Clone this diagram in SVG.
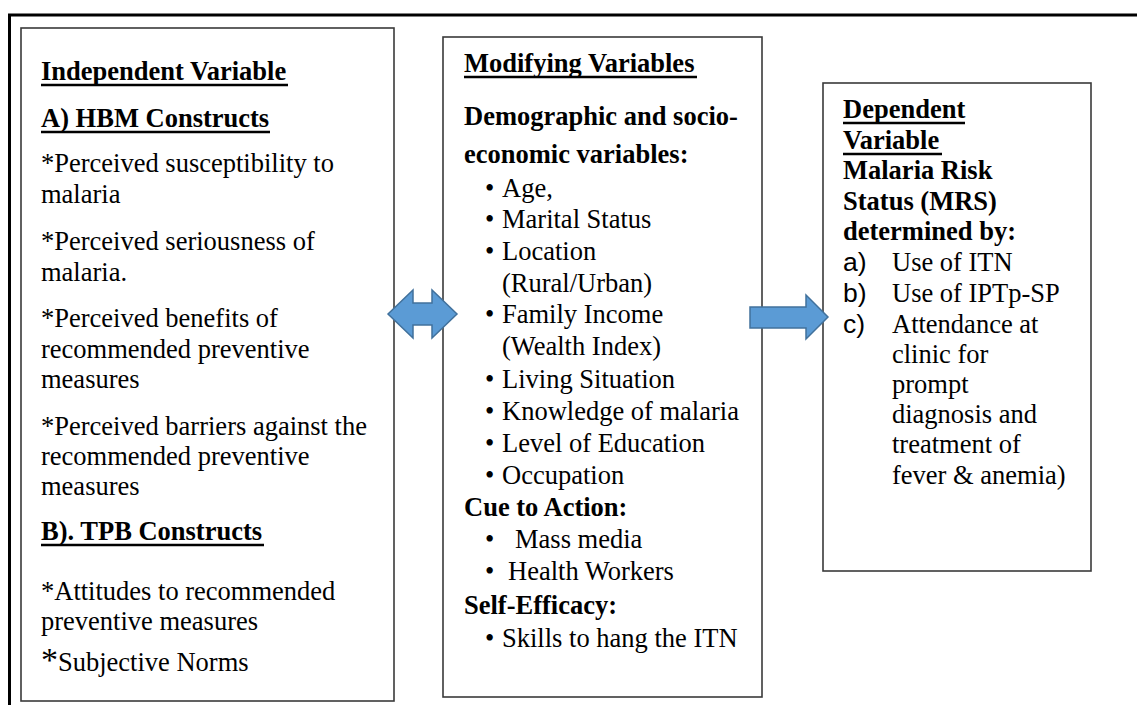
<svg xmlns="http://www.w3.org/2000/svg" width="1137" height="705" viewBox="0 0 1137 705">
  <style>
    .box { fill: #ffffff; stroke: #3a3a3a; stroke-width: 1.6; }
    .frame { fill: none; stroke: #000000; stroke-width: 3; }
    .t { font-family: "Liberation Serif", "Times New Roman", serif; font-size: 26.5px; fill: #000000; }
    .b { font-weight: bold; }
    .ul { stroke: #000000; stroke-width: 2.4; }
    .sans { font-family: "Liberation Sans", Arial, sans-serif; font-size: 26.5px; fill: #000000; }
    .arrow { fill: #5B9BD5; stroke: #41719C; stroke-width: 1.5; stroke-linejoin: miter; }
  </style>

  <rect width="1137" height="705" fill="#ffffff"/>

  <!-- outer page frame (top and left edges visible) -->
  <g id="frame">
    <polyline class="frame" points="9.5,705 9.5,15 1137,15"/>
  </g>

  <!-- Independent variable box -->
  <g id="independent">
    <rect class="box" x="21" y="28" width="373" height="673"/>
    <text class="t b" x="41" y="80">Independent Variable</text>
    <line class="ul" x1="41" y1="85" x2="288" y2="85"/>
    <text class="t b" x="41" y="127">A) HBM Constructs</text>
    <line class="ul" x1="41" y1="132" x2="270" y2="132"/>
    <text class="t" x="41" y="172">*Perceived susceptibility to</text>
    <text class="t" x="41" y="203">malaria</text>
    <text class="t" x="41" y="250">*Perceived seriousness of</text>
    <text class="t" x="41" y="281">malaria.</text>
    <text class="t" x="41" y="327">*Perceived benefits of</text>
    <text class="t" x="41" y="358">recommended preventive</text>
    <text class="t" x="41" y="388">measures</text>
    <text class="t" x="41" y="435">*Perceived barriers against the</text>
    <text class="t" x="41" y="465">recommended preventive</text>
    <text class="t" x="41" y="495">measures</text>
    <text class="t b" x="41" y="540">B). TPB Constructs</text>
    <line class="ul" x1="41" y1="545" x2="264" y2="545"/>
    <text class="t" x="41" y="600">*Attitudes to recommended</text>
    <text class="t" x="41" y="630">preventive measures</text>
    <text class="t" x="41" y="671"><tspan font-size="34">*</tspan>Subjective Norms</text>
  </g>

  <!-- Modifying variables box -->
  <g id="modifying">
    <rect class="box" x="443" y="37" width="319" height="660"/>
    <text class="t b" x="464" y="72">Modifying Variables</text>
    <line class="ul" x1="464" y1="77" x2="697" y2="77"/>
    <text class="t b" x="464" y="125">Demographic and socio-</text>
    <text class="t b" x="464" y="163">economic variables:</text>
    <text class="t" x="485" y="197">•</text><text class="t" x="502" y="197">Age,</text>
    <text class="t" x="485" y="228">•</text><text class="t" x="502" y="228">Marital Status</text>
    <text class="t" x="485" y="260">•</text><text class="t" x="502" y="260">Location</text>
    <text class="t" x="502" y="292">(Rural/Urban)</text>
    <text class="t" x="485" y="323">•</text><text class="t" x="502" y="323">Family Income</text>
    <text class="t" x="502" y="355">(Wealth Index)</text>
    <text class="t" x="485" y="388">•</text><text class="t" x="502" y="388">Living Situation</text>
    <text class="t" x="485" y="420">•</text><text class="t" x="502" y="420">Knowledge of malaria</text>
    <text class="t" x="485" y="452">•</text><text class="t" x="502" y="452">Level of Education</text>
    <text class="t" x="485" y="484">•</text><text class="t" x="502" y="484">Occupation</text>
    <text class="t b" x="464" y="516">Cue to Action:</text>
    <text class="t" x="485" y="548">•</text><text class="t" x="515" y="548">Mass media</text>
    <text class="t" x="485" y="580">•</text><text class="t" x="508" y="580">Health Workers</text>
    <text class="t b" x="464" y="614">Self-Efficacy:</text>
    <text class="t" x="485" y="647">•</text><text class="t" x="502" y="647">Skills to hang the ITN</text>
  </g>

  <!-- Dependent variable box -->
  <g id="dependent">
    <rect class="box" x="823" y="83" width="268" height="488"/>
    <text class="t b" x="843" y="118">Dependent</text>
    <line class="ul" x1="843" y1="123" x2="965" y2="123"/>
    <text class="t b" x="843" y="149">Variable</text>
    <line class="ul" x1="843" y1="154" x2="942" y2="154"/>
    <text class="t b" x="843" y="179">Malaria Risk</text>
    <text class="t b" x="843" y="210">Status (MRS)</text>
    <text class="t b" x="843" y="240">determined by:</text>
    <text class="sans" x="843" y="271">a)</text><text class="t" x="892" y="271">Use of ITN</text>
    <text class="sans" x="843" y="302">b)</text><text class="t" x="892" y="302">Use of IPTp-SP</text>
    <text class="sans" x="843" y="333">c)</text><text class="t" x="892" y="333">Attendance at</text>
    <text class="t" x="892" y="363">clinic for</text>
    <text class="t" x="892" y="393">prompt</text>
    <text class="t" x="892" y="423">diagnosis and</text>
    <text class="t" x="892" y="453">treatment of</text>
    <text class="t" x="892" y="484">fever &amp; anemia)</text>
  </g>

  <!-- block arrows between the boxes -->
  <g id="connectors">
    <polygon class="arrow" points="388,314 413,290 413,303 432,303 432,290 457,314 432,338 432,325 413,325 413,338"/>
    <polygon class="arrow" points="750,307 806,307 806,295 828,317 806,339 806,328 750,328"/>
  </g>
</svg>
